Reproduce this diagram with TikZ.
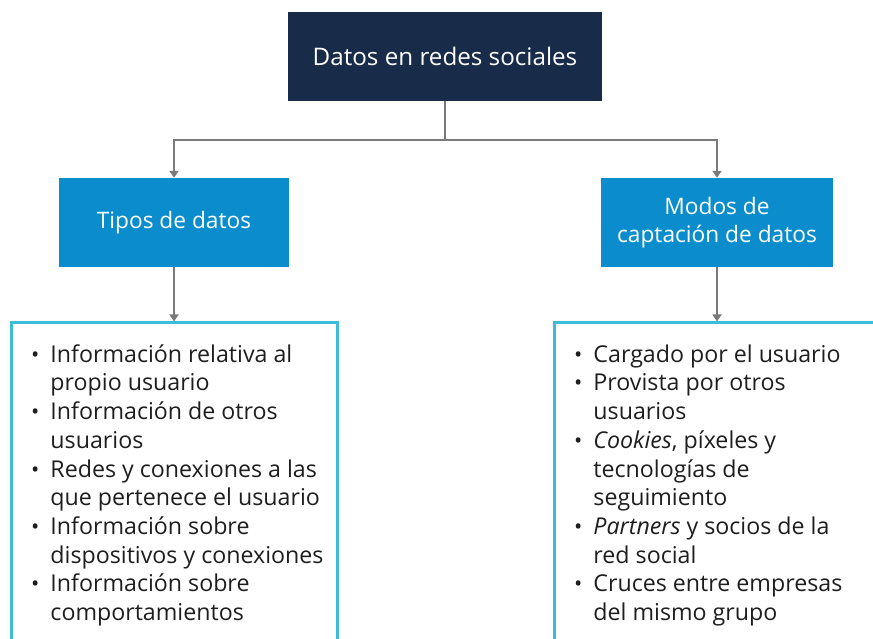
\documentclass[tikz,border=0pt]{standalone}
\usepackage{fontspec}
\setmainfont{Open Sans}
\usetikzlibrary{arrows.meta}
\definecolor{navy}{HTML}{182B49}
\definecolor{azul}{HTML}{0B8DCD}
\definecolor{borde}{HTML}{3CBCD9}
\definecolor{gris}{HTML}{7A7A7A}
\definecolor{tinta}{HTML}{1E1E1E}
\newcommand{\bul}{{\fontsize{22}{22}\selectfont\textbullet}}
\begin{document}
\begin{tikzpicture}[x=1pt,y=1pt,
  topbox/.style={fill=navy,text=white,minimum width=314pt,minimum height=89pt,font=\fontsize{24.2}{25}\selectfont},
  midbox/.style={fill=azul,text=white,minimum height=89pt,align=center,font=\fontsize{22.7}{28}\selectfont},
  conn/.style={draw=gris,line width=2.5pt,-{Triangle[length=7pt,width=9pt]}},
  listbox/.style={draw=borde,line width=3pt,minimum width=326pt,minimum height=340pt,anchor=north},
  listtext/.style={anchor=north west,inner sep=0pt,text=tinta,font=\fontsize{23.2}{28.7}\selectfont}]
\useasboundingbox (0,0) rectangle (873,639);
\clip (0,0) rectangle (873,639);
\node[topbox] (top) at (445,582.5) {Datos en redes sociales};
\node[midbox,minimum width=230pt] (tipos) at (174,416.5) {Tipos de datos};
\node[midbox,minimum width=232pt] (modos) at (717,416.5) {Modos de\\captación de datos};
\coordinate (split) at (445,499);
\draw[conn] (top.south) -- (split) -| (tipos.north);
\draw[conn] (split) -| (modos.north);
\node[listbox] (tiposbox) at (174,317.5) {};
\node[listbox] (modosbox) at (717,317.5) {};
\draw[conn] (tipos.south) -- (tiposbox.north);
\draw[conn] (modos.south) -- (modosbox.north);
\node[listtext] (tiposlist) at (31,297) {\begin{tabular}{@{}l@{\hspace{11pt}}l@{}}
\bul & Información relativa al\\
 & propio usuario\\
\bul & Información de otros\\
 & usuarios\\
\bul & Redes y conexiones a las\\
 & que pertenece el usuario\\
\bul & Información sobre\\
 & dispositivos y conexiones\\
\bul & Información sobre\\
 & comportamientos
\end{tabular}};
\node[listtext] (modoslist) at (574,297) {\begin{tabular}{@{}l@{\hspace{11pt}}l@{}}
\bul & Cargado por el usuario\\
\bul & Provista por otros\\
 & usuarios\\
\bul & \textit{Cookies}, píxeles y\\
 & tecnologías de\\
 & seguimiento\\
\bul & \textit{Partners} y socios de la\\
 & red social\\
\bul & Cruces entre empresas\\
 & del mismo grupo
\end{tabular}};
\end{tikzpicture}
\end{document}
